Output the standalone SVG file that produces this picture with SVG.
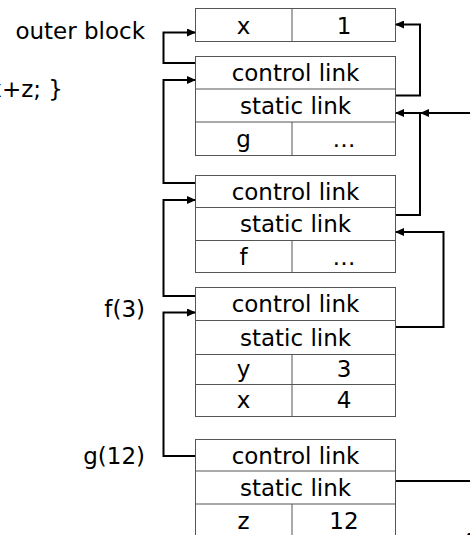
<svg xmlns="http://www.w3.org/2000/svg" width="470" height="535" viewBox="0 0 470 535">
  <style>
    text { font-family: "DejaVu Sans", "Liberation Sans", sans-serif; font-size: 23px; fill: #000; }
    .c { text-anchor: middle; }
    .r { text-anchor: end; }
    .cell { fill: #fff; stroke: #555; stroke-width: 1; }
    .div { stroke: #555; stroke-width: 1; }
    .link { fill: none; stroke: #000; stroke-width: 2; }
  </style>
  <defs>
    <marker id="arrow" markerUnits="userSpaceOnUse" markerWidth="9" markerHeight="8" refX="8" refY="4" orient="auto">
      <path d="M0,0 L9,4 L0,8 z" fill="#000"/>
    </marker>
  </defs>
  <rect width="470" height="535" fill="#fff"/>

  <!-- side labels -->
  <text x="63" y="97" class="r">x+z; }</text>
  <text x="145" y="39" class="r">outer block</text>
  <text x="145" y="317" class="r">f(3)</text>
  <text x="145" y="464" class="r">g(12)</text>
  <text x="462" y="546" style="font-size:18px">4</text>

  <!-- activation records -->
  <g id="outer">
    <rect class="cell" x="195.5" y="8.5" width="200" height="33"/>
    <line class="div" x1="292" y1="8.5" x2="292" y2="41.5"/>
    <text x="243.5" y="34" class="c">x</text>
    <text x="344" y="34" class="c">1</text>
  </g>

  <g id="frame-g-decl">
    <rect class="cell" x="195.5" y="56.5" width="200" height="99"/>
    <line class="div" x1="195.5" y1="89" x2="395.5" y2="89"/>
    <line class="div" x1="195.5" y1="122" x2="395.5" y2="122"/>
    <line class="div" x1="292" y1="122" x2="292" y2="155.5"/>
    <text x="295.5" y="81" class="c">control link</text>
    <text x="295.5" y="114" class="c">static link</text>
    <text x="243.5" y="147" class="c">g</text>
    <text x="344" y="147" class="c">…</text>
  </g>

  <g id="frame-f-decl">
    <rect class="cell" x="195.5" y="175.5" width="200" height="97"/>
    <line class="div" x1="195.5" y1="207.5" x2="395.5" y2="207.5"/>
    <line class="div" x1="195.5" y1="240.5" x2="395.5" y2="240.5"/>
    <line class="div" x1="292" y1="240.5" x2="292" y2="272.5"/>
    <text x="295.5" y="200" class="c">control link</text>
    <text x="295.5" y="232" class="c">static link</text>
    <text x="243.5" y="265" class="c">f</text>
    <text x="344" y="265" class="c">…</text>
  </g>

  <g id="frame-f3">
    <rect class="cell" x="195.5" y="287.5" width="200" height="129"/>
    <line class="div" x1="195.5" y1="320.5" x2="395.5" y2="320.5"/>
    <line class="div" x1="195.5" y1="354.5" x2="395.5" y2="354.5"/>
    <line class="div" x1="195.5" y1="384.5" x2="395.5" y2="384.5"/>
    <line class="div" x1="292" y1="354.5" x2="292" y2="416.5"/>
    <text x="295.5" y="312" class="c">control link</text>
    <text x="295.5" y="346" class="c">static link</text>
    <text x="243.5" y="377" class="c">y</text>
    <text x="344" y="377" class="c">3</text>
    <text x="243.5" y="408" class="c">x</text>
    <text x="344" y="408" class="c">4</text>
  </g>

  <g id="frame-g12">
    <rect class="cell" x="195.5" y="439.5" width="200" height="110"/>
    <line class="div" x1="195.5" y1="471" x2="395.5" y2="471"/>
    <line class="div" x1="195.5" y1="504" x2="395.5" y2="504"/>
    <line class="div" x1="292" y1="504" x2="292" y2="549"/>
    <text x="295.5" y="464" class="c">control link</text>
    <text x="295.5" y="496" class="c">static link</text>
    <text x="243.5" y="529" class="c">z</text>
    <text x="344" y="529" class="c">12</text>
  </g>

  <!-- control and static links -->
  <g id="links">
    <path class="link" d="M195,63 H163.5 V32.5 H195" marker-end="url(#arrow)"/>
    <path class="link" d="M396,95.5 H420 V24.5 H396" marker-end="url(#arrow)"/>
    <path class="link" d="M195,183 H163.5 V80 H195" marker-end="url(#arrow)"/>
    <path class="link" d="M396,215 H420 V113 H396" marker-end="url(#arrow)"/>
    <path class="link" d="M195,296 H163.5 V200 H195" marker-end="url(#arrow)"/>
    <path class="link" d="M396,327 H443.5 V232 H396" marker-end="url(#arrow)"/>
    <path class="link" d="M195,456 H163.5 V312.5 H195" marker-end="url(#arrow)"/>
    <path class="link" d="M396,481 H472"/>
    <path class="link" d="M472,113 H421" marker-end="url(#arrow)"/>
  </g>
</svg>
